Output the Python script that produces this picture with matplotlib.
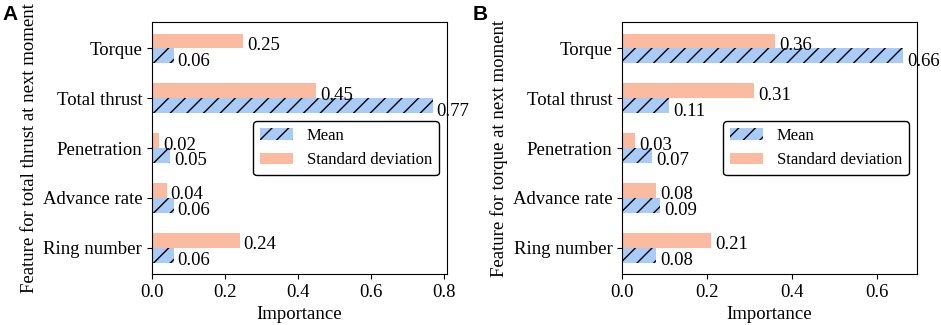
import numpy as np
from matplotlib import pyplot as plt

plt.rcParams['font.family'] = ['Liberation Serif', 'DejaVu Serif']
plt.rcParams['font.size'] = 13.5
plt.rcParams['hatch.linewidth'] = 1.0

FEATURES = ["Ring number", "Advance rate", "Penetration", "Total thrust", "Torque"]

THRUST_MEAN = [0.06, 0.06, 0.05, 0.77, 0.06]
THRUST_STD = [0.24, 0.04, 0.02, 0.45, 0.25]

TORQUE_MEAN = [0.08, 0.09, 0.07, 0.11, 0.66]
TORQUE_STD = [0.21, 0.08, 0.03, 0.31, 0.36]

BLUE = "#a8cbf7"
SALMON = "#fbbba0"


def plot_panel(ax, mean, std, ylabel, letter):
    y = np.arange(len(FEATURES))
    h = 0.3
    ax.barh(y - h / 2, mean, height=h, color=BLUE, hatch="//", edgecolor="black",
            linewidth=0, label="Mean")
    ax.barh(y + h / 2, std, height=h, color=SALMON, label="Standard deviation")
    for i in range(len(FEATURES)):
        ax.text(mean[i] + 0.01, y[i] - h / 2 - 0.11, f"{mean[i]:.2f}", va="center", ha="left")
        ax.text(std[i] + 0.01, y[i] + h / 2 - 0.09, f"{std[i]:.2f}", va="center", ha="left")
    ax.set_yticks(y)
    ax.set_yticklabels(FEATURES)
    ax.set_xlabel("Importance")
    ax.set_ylabel(ylabel, labelpad=3)
    leg = ax.legend(loc="center right", fontsize=12)
    leg.get_frame().set_edgecolor("black")
    leg.get_frame().set_alpha(1)
    ax.text(-0.508, 1.067, letter, transform=ax.transAxes, fontsize=15, fontweight="bold",
            family="Liberation Sans", va="top", ha="left")


fig = plt.figure(figsize=(9.41, 3.25), dpi=100)
ax1 = fig.add_axes([0.1615, 0.157, 0.3135, 0.775])
ax2 = fig.add_axes([0.661, 0.157, 0.3135, 0.775])

plot_panel(ax1, THRUST_MEAN, THRUST_STD, "Feature for total thrust at next moment", "A")
plot_panel(ax2, TORQUE_MEAN, TORQUE_STD, "Feature for torque at next moment", "B")

fig.savefig("out.png", dpi=100)
